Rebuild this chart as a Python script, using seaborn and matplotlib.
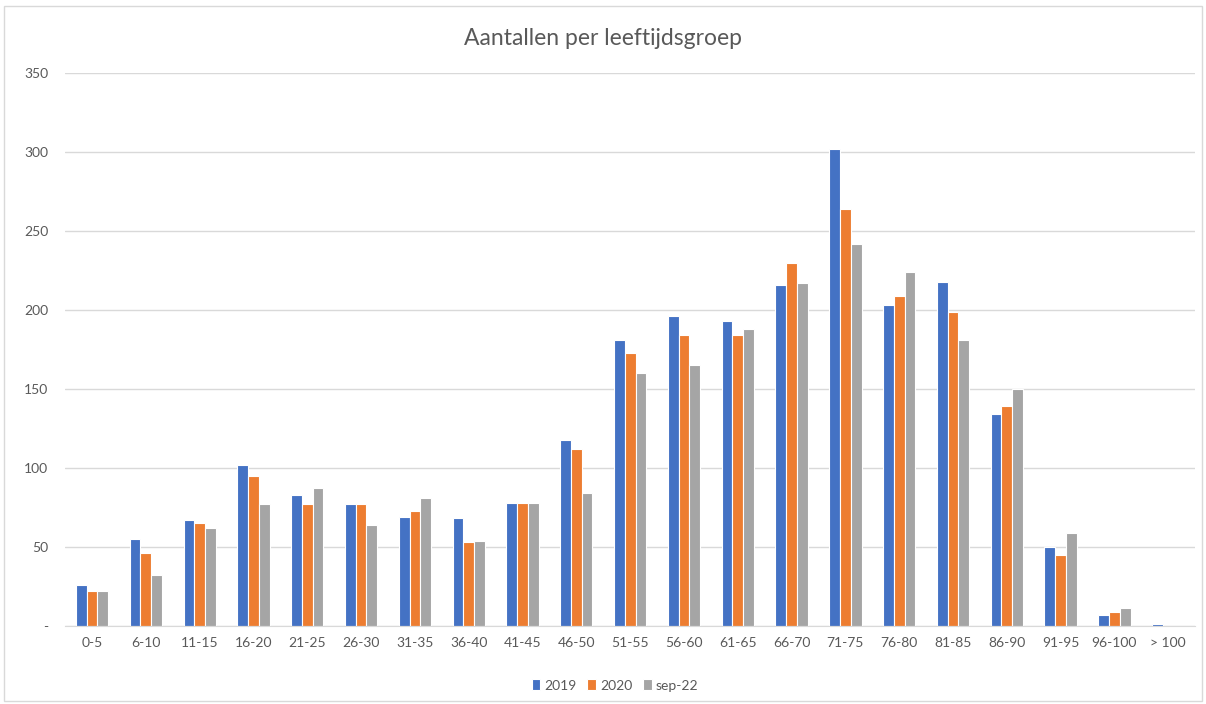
import pandas as pd
import numpy as np
import seaborn as sns
import matplotlib.pyplot as plt
from matplotlib.patches import Rectangle

# %%
groepen = ['0-5', '6-10', '11-15', '16-20', '21-25', '26-30', '31-35', '36-40',
           '41-45', '46-50', '51-55', '56-60', '61-65', '66-70', '71-75', '76-80',
           '81-85', '86-90', '91-95', '96-100', '> 100']
j2019 = [26, 55, 67, 102, 83, 77, 69, 68, 78, 118, 181, 196, 193, 216, 302, 203, 218, 134, 50, 7, 1]
j2020 = [22, 46, 65, 95, 77, 77, 73, 53, 78, 112, 173, 184, 184, 230, 264, 209, 199, 139, 45, 9, 0]
sep22 = [22, 32, 62, 77, 87, 64, 81, 54, 78, 84, 160, 165, 188, 217, 242, 224, 181, 150, 59, 11, 0]
reeksen = ['2019', '2020', 'sep-22']
kleuren = ['#4472C4', '#ED7D31', '#A5A5A5']

df = pd.DataFrame({'groep': groepen, '2019': j2019, '2020': j2020, 'sep-22': sep22})
df = df.melt(id_vars='groep', var_name='reeks', value_name='aantal')

# %%
sns.set_style('white')
plt.rcParams['font.family'] = ['Lato', 'DejaVu Sans']

fig = plt.figure(figsize=(12.06, 7.04), dpi=100)
ax = fig.add_axes([0.054, 0.111, 0.937, 0.785])

sns.barplot(data=df, x='groep', y='aantal', hue='reeks', hue_order=reeksen,
            palette=kleuren, saturation=1, width=0.6, edgecolor='white',
            linewidth=0.8, ax=ax, legend=True)

ax.set_ylim(0, 350)
ax.set_xlim(-0.5, len(groepen) - 0.5)
ax.set_yticks(range(0, 351, 50))
ax.set_yticklabels(['-'] + [str(v) for v in range(50, 351, 50)])
ax.yaxis.grid(True, color='#D9D9D9', linewidth=1)
ax.set_axisbelow(True)
for s in ['top', 'right', 'left']:
    ax.spines[s].set_visible(False)
ax.spines['bottom'].set_color('#D9D9D9')
ax.tick_params(axis='both', length=0, labelsize=10, colors='#595959')
ax.tick_params(axis='y', pad=12)
ax.tick_params(axis='x', pad=8)
ax.set_xlabel('')
ax.set_ylabel('')

ax.get_legend().remove()
handles, labels = ax.get_legend_handles_labels()
fig.legend(handles, labels, loc='lower center', bbox_to_anchor=(0.51, 0.0),
           ncol=3, frameon=False, fontsize=10, handlelength=0.6, handleheight=0.8,
           handletextpad=0.3, columnspacing=0.8, labelcolor='#595959')

fig.suptitle('Aantallen per leeftijdsgroep', y=0.96, fontsize=16.5, color='#595959')
fig.patches.append(Rectangle((0.003, 0.004), 0.994, 0.988, transform=fig.transFigure,
                             fill=False, edgecolor='#D9D9D9', linewidth=1))

plt.savefig('out.png')
